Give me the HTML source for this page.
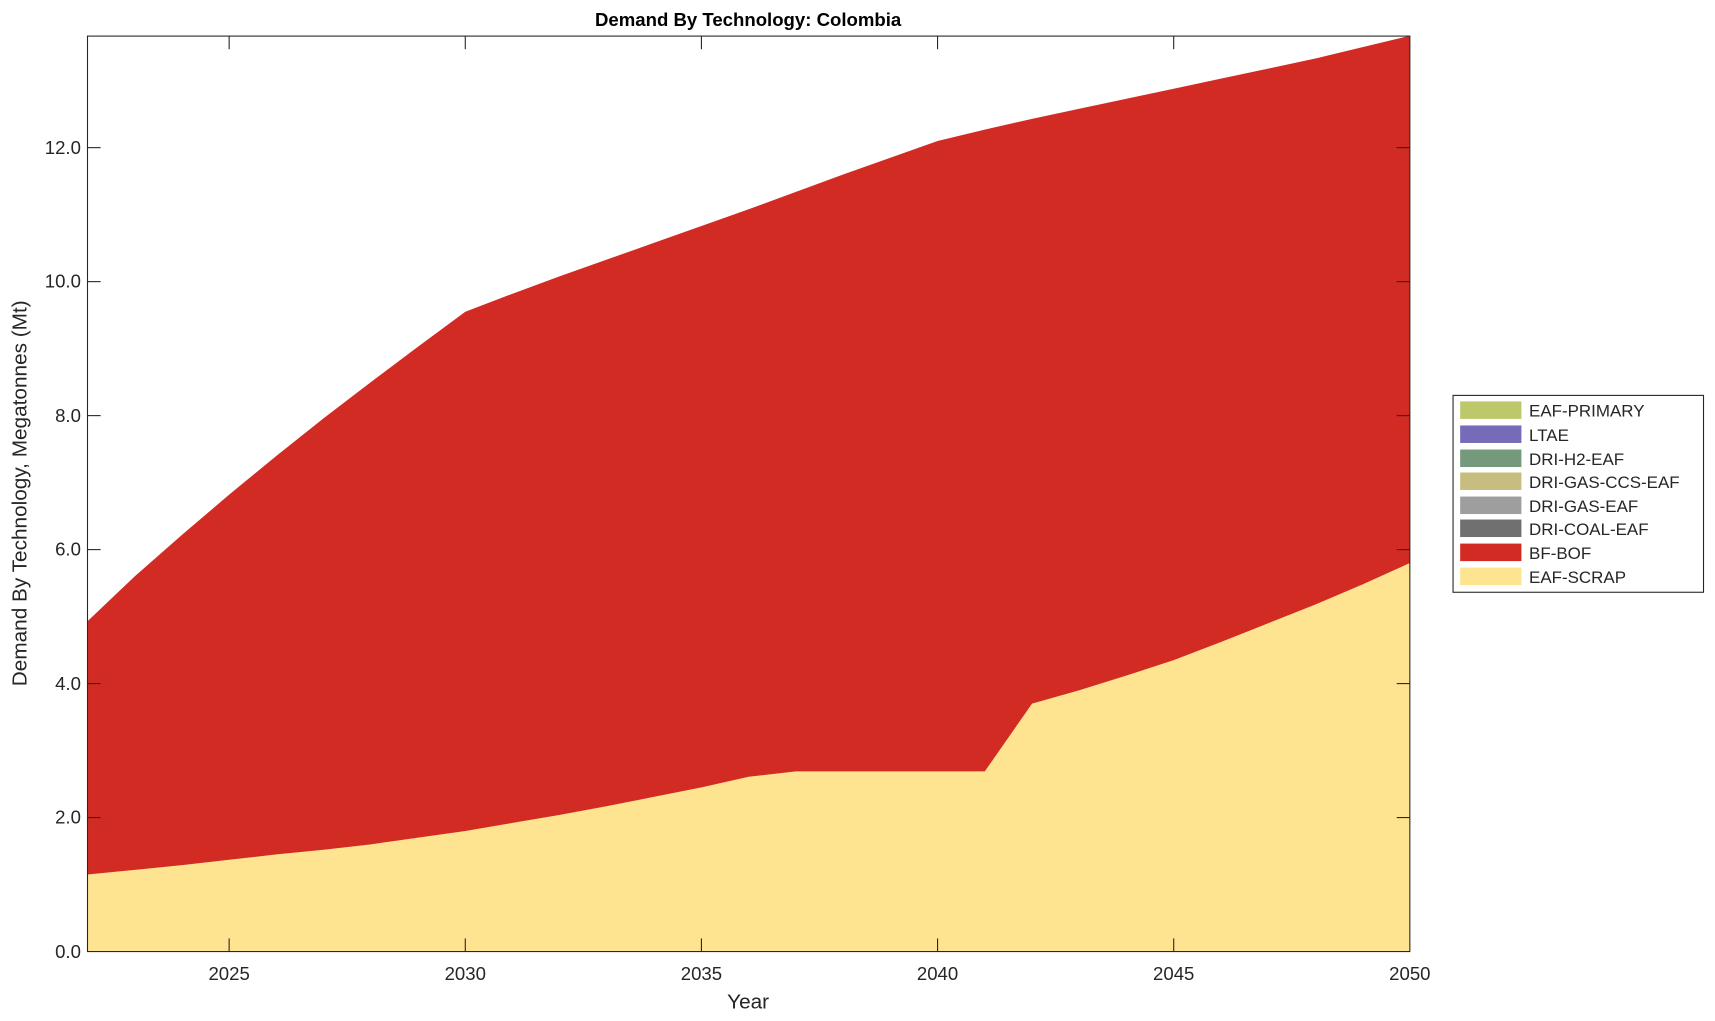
<!DOCTYPE html>
<html><head><meta charset="utf-8"><style>
html,body{margin:0;padding:0;background:#fff;}
svg{display:block;}
text{font-family:"Liberation Sans",Arial,sans-serif;fill:#262626;}
</style></head><body>
<svg width="1715" height="1021" viewBox="0 0 1568 933.5" preserveAspectRatio="none" xmlns="http://www.w3.org/2000/svg">
<rect width="1568" height="933.5" fill="#fff"/>
<g transform="translate(80,870) scale(43.1786,-61.25) translate(-2022,0)">
<polygon fill="#d22b24" points="2022,0 2022,4.93 2023,5.6 2024,6.22 2025,6.82 2026,7.4 2027,7.96 2028,8.5 2029,9.03 2030,9.55 2031,9.82 2032,10.08 2033,10.33 2034,10.58 2035,10.83 2036,11.08 2037,11.34 2038,11.6 2039,11.85 2040,12.1 2041,12.27 2042,12.43 2043,12.58 2044,12.73 2045,12.88 2046,13.03 2047,13.18 2048,13.33 2049,13.5 2050,13.67 2050,0"/>
<polygon fill="#fee391" points="2022,0 2022,1.15 2023,1.22 2024,1.29 2025,1.37 2026,1.45 2027,1.52 2028,1.6 2029,1.7 2030,1.8 2031,1.92 2032,2.04 2033,2.17 2034,2.31 2035,2.45 2036,2.61 2037,2.69 2038,2.69 2039,2.69 2040,2.69 2041,2.69 2042,3.7 2043,3.9 2044,4.12 2045,4.35 2046,4.62 2047,4.9 2048,5.18 2049,5.48 2050,5.8 2050,0"/>
</g>
<rect x="80" y="33" width="1209" height="837" fill="none" stroke="#262626" stroke-width="1"/>
<g stroke="#262626" stroke-width="1">
<line x1="209.5" y1="870" x2="209.5" y2="858"/><line x1="209.5" y1="33" x2="209.5" y2="45"/>
<line x1="425.4" y1="870" x2="425.4" y2="858"/><line x1="425.4" y1="33" x2="425.4" y2="45"/>
<line x1="641.3" y1="870" x2="641.3" y2="858"/><line x1="641.3" y1="33" x2="641.3" y2="45"/>
<line x1="857.2" y1="870" x2="857.2" y2="858"/><line x1="857.2" y1="33" x2="857.2" y2="45"/>
<line x1="1073.1" y1="870" x2="1073.1" y2="858"/><line x1="1073.1" y1="33" x2="1073.1" y2="45"/>
<line x1="80" y1="747.5" x2="92" y2="747.5"/><line x1="1289" y1="747.5" x2="1277" y2="747.5"/>
<line x1="80" y1="625" x2="92" y2="625"/><line x1="1289" y1="625" x2="1277" y2="625"/>
<line x1="80" y1="502.5" x2="92" y2="502.5"/><line x1="1289" y1="502.5" x2="1277" y2="502.5"/>
<line x1="80" y1="380" x2="92" y2="380"/><line x1="1289" y1="380" x2="1277" y2="380"/>
<line x1="80" y1="257.5" x2="92" y2="257.5"/><line x1="1289" y1="257.5" x2="1277" y2="257.5"/>
<line x1="80" y1="135" x2="92" y2="135"/><line x1="1289" y1="135" x2="1277" y2="135"/>
</g>
<g font-size="17" text-anchor="middle">
<text x="209.5" y="896">2025</text><text x="425.4" y="896">2030</text><text x="641.3" y="896">2035</text>
<text x="857.2" y="896">2040</text><text x="1073.1" y="896">2045</text><text x="1289" y="896">2050</text>
</g>
<g font-size="17" text-anchor="end">
<text x="74" y="876">0.0</text><text x="74" y="753">2.0</text><text x="74" y="631">4.0</text>
<text x="74" y="508">6.0</text><text x="74" y="386">8.0</text><text x="74" y="263">10.0</text><text x="74" y="141">12.0</text>
</g>
<text x="684" y="922" font-size="19" text-anchor="middle">Year</text>
<text transform="translate(24,451) rotate(-90)" font-size="19" text-anchor="middle">Demand By Technology, Megatonnes (Mt)</text>
<text x="684" y="24" font-size="17" font-weight="bold" text-anchor="middle" style="fill:#000">Demand By Technology: Colombia</text>
<rect x="1328.5" y="361.5" width="229" height="180" fill="#fff" stroke="#262626" stroke-width="1"/>
<g>
<rect x="1335" y="367" width="56" height="16" fill="#bdc86b"/>
<rect x="1335" y="389" width="56" height="16" fill="#756bb8"/>
<rect x="1335" y="411" width="56" height="16" fill="#74997b"/>
<rect x="1335" y="432" width="56" height="16" fill="#c7bd7e"/>
<rect x="1335" y="454" width="56" height="16" fill="#9e9e9e"/>
<rect x="1335" y="475" width="56" height="16" fill="#707070"/>
<rect x="1335" y="497" width="56" height="16" fill="#d22b24"/>
<rect x="1335" y="519" width="56" height="16" fill="#fee391"/>
</g>
<g font-size="15.5">
<text x="1398" y="381">EAF-PRIMARY</text>
<text x="1398" y="403">LTAE</text>
<text x="1398" y="425">DRI-H2-EAF</text>
<text x="1398" y="446">DRI-GAS-CCS-EAF</text>
<text x="1398" y="468">DRI-GAS-EAF</text>
<text x="1398" y="489">DRI-COAL-EAF</text>
<text x="1398" y="511">BF-BOF</text>
<text x="1398" y="533">EAF-SCRAP</text>
</g>
</svg>
</body></html>
